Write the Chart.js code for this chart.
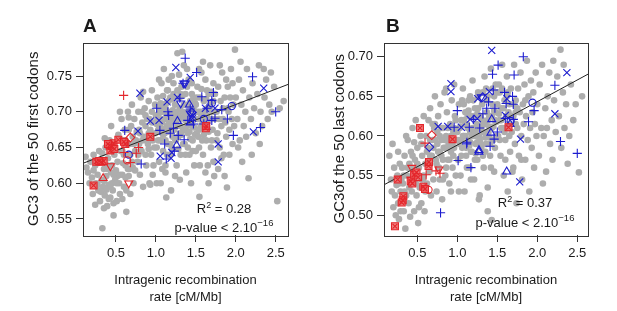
<!DOCTYPE html>
<html><head><meta charset="utf-8">
<script src="https://cdn.jsdelivr.net/npm/chart.js@4/dist/chart.umd.min.js"></script>
<style>
html,body{margin:0;padding:0;background:#fff;width:617px;height:311px;overflow:hidden;}
canvas{position:absolute;top:0;}
#ca{left:0;}
#cb{left:301px;}
</style></head><body>
<canvas id="ca" width="308" height="311"></canvas>
<canvas id="cb" width="316" height="311"></canvas>
<script>
// ---------- tick labels ----------
const xTicks = [0.5, 1.0, 1.5, 2.0, 2.5];
const yTicksA = [0.55, 0.60, 0.65, 0.70, 0.75];
const yTicksB = [0.50, 0.55, 0.60, 0.65, 0.70];

// ---------- regression fits (intercept, slope) ----------
const fitA = [0.6242, 0.0430];
const fitB = [0.5338, 0.05476];
const statsA = ["0.28", "2.10"];
const statsB = ["0.37", "2.10"];

// ---------- Panel A: GC3 of the 50 first codons ----------
const greyA = [
[0.12,0.637],[0.13,0.622],[0.15,0.615],[0.18,0.630],[0.20,0.608],[0.22,0.640],[0.24,0.625],[0.25,0.600],[0.27,0.612],[0.28,0.590],[0.29,0.645],[0.30,0.575],[0.21,0.585],[0.26,0.632],[0.17,0.600],
[0.33,0.537],[0.32,0.605],[0.34,0.595],[0.35,0.620],[0.36,0.583],[0.37,0.650],[0.38,0.610],[0.39,0.568],[0.40,0.635],[0.41,0.598],[0.42,0.660],[0.43,0.580],[0.44,0.615],[0.45,0.625],[0.46,0.590],[0.47,0.572],[0.48,0.640],[0.49,0.605],[0.36,0.663],[0.44,0.680],[0.47,0.555],[0.40,0.620],[0.33,0.642],[0.45,0.600],[0.38,0.591],[0.50,0.618],
[0.51,0.575],[0.52,0.630],[0.53,0.668],[0.54,0.600],[0.55,0.585],[0.56,0.645],[0.57,0.690],[0.58,0.612],[0.59,0.660],[0.60,0.595],[0.61,0.675],[0.62,0.625],[0.63,0.560],[0.64,0.640],[0.65,0.700],[0.66,0.610],[0.67,0.655],[0.68,0.585],[0.69,0.680],[0.70,0.630],[0.71,0.665],[0.72,0.600],[0.73,0.690],[0.74,0.645],[0.55,0.700],[0.60,0.640],[0.63,0.590],[0.67,0.620],[0.70,0.710],[0.52,0.610],[0.58,0.578],[0.66,0.692],[0.72,0.655],[0.74,0.618],
[0.76,0.672],[0.77,0.630],[0.78,0.700],[0.79,0.655],[0.80,0.612],[0.81,0.720],[0.82,0.645],[0.83,0.685],[0.84,0.595],[0.85,0.665],[0.86,0.705],[0.87,0.640],[0.88,0.625],[0.89,0.690],[0.90,0.655],[0.91,0.715],[0.92,0.600],[0.93,0.675],[0.94,0.640],[0.95,0.700],[0.96,0.660],[0.97,0.625],[0.98,0.685],[0.99,0.710],[0.80,0.670],[0.84,0.728],[0.88,0.660],[0.92,0.690],[0.96,0.612],[0.78,0.640],[0.83,0.700],[0.87,0.680],[0.91,0.648],[0.95,0.730],[0.99,0.670],[0.93,0.598],
[1.00,0.695],[1.01,0.650],[1.02,0.720],[1.03,0.675],[1.04,0.630],[1.05,0.705],[1.06,0.660],[1.07,0.740],[1.08,0.685],[1.09,0.645],[1.10,0.710],[1.11,0.670],[1.12,0.625],[1.13,0.695],[1.14,0.730],[1.15,0.655],[1.16,0.715],[1.17,0.680],[1.18,0.640],[1.19,0.700],[1.20,0.750],[1.21,0.665],[1.22,0.725],[1.23,0.690],[1.24,0.610],[1.02,0.690],[1.05,0.680],[1.08,0.700],[1.11,0.690],[1.14,0.680],[1.17,0.695],[1.20,0.685],[1.23,0.675],[1.03,0.660],[1.09,0.668],[1.15,0.672],[1.21,0.702],[1.06,0.712],[1.12,0.705],[1.18,0.720],[1.24,0.710],[1.01,0.600],[1.06,0.600],[1.12,0.615],[1.19,0.590],[1.04,0.745],[1.10,0.760],[1.16,0.745],[1.22,0.740],[1.08,0.620],[1.14,0.640],[1.20,0.650],[1.25,0.660],[1.13,0.580],
[1.26,0.700],[1.27,0.782],[1.28,0.665],[1.29,0.720],[1.30,0.690],[1.31,0.640],[1.32,0.735],[1.33,0.784],[1.34,0.675],[1.35,0.710],[1.36,0.655],[1.37,0.725],[1.38,0.690],[1.39,0.760],[1.40,0.670],[1.41,0.700],[1.42,0.640],[1.43,0.715],[1.44,0.685],[1.45,0.740],[1.46,0.660],[1.47,0.705],[1.48,0.625],[1.49,0.690],[1.27,0.680],[1.30,0.705],[1.33,0.692],[1.36,0.698],[1.39,0.680],[1.42,0.695],[1.45,0.680],[1.48,0.700],[1.28,0.648],[1.34,0.655],[1.40,0.650],[1.46,0.645],[1.29,0.752],[1.35,0.765],[1.41,0.745],[1.47,0.720],[1.30,0.605],[1.38,0.615],[1.44,0.600],[1.32,0.668],[1.37,0.640],[1.43,0.662],[1.49,0.668],[1.31,0.725],[1.26,0.625],
[1.50,0.710],[1.51,0.670],[1.52,0.735],[1.53,0.690],[1.54,0.650],[1.545,0.581],[1.55,0.720],[1.56,0.680],[1.57,0.755],[1.58,0.700],[1.59,0.640],[1.60,0.715],[1.61,0.685],[1.62,0.745],[1.63,0.660],[1.64,0.705],[1.65,0.625],[1.66,0.725],[1.67,0.690],[1.68,0.765],[1.69,0.650],[1.70,0.700],[1.71,0.675],[1.72,0.740],[1.73,0.610],[1.74,0.690],[1.52,0.700],[1.56,0.698],[1.60,0.695],[1.64,0.680],[1.68,0.710],[1.72,0.715],[1.53,0.665],[1.58,0.660],[1.63,0.690],[1.70,0.660],[1.55,0.625],[1.62,0.615],[1.66,0.600],[1.72,0.630],[1.59,0.770],[1.64,0.730],[1.54,0.760],[1.74,0.725],[1.50,0.645],
[1.76,0.700],[1.77,0.670],[1.78,0.735],[1.79,0.690],[1.80,0.650],[1.81,0.715],[1.82,0.680],[1.83,0.755],[1.84,0.705],[1.85,0.640],[1.86,0.720],[1.87,0.685],[1.88,0.665],[1.89,0.594],[1.90,0.735],[1.91,0.700],[1.92,0.675],[1.93,0.720],[1.94,0.760],[1.95,0.690],[1.96,0.655],[1.97,0.710],[1.99,0.787],[1.98,0.680],[1.78,0.620],[1.82,0.635],[1.86,0.610],[1.92,0.640],[1.80,0.765],[1.88,0.745],[1.96,0.740],[1.84,0.690],[1.90,0.705],[1.76,0.660],
[2.00,0.720],[2.02,0.690],[2.04,0.745],[2.05,0.660],[2.07,0.710],[2.09,0.730],[2.10,0.680],[2.12,0.700],[2.14,0.760],[2.16,0.607],[2.17,0.720],[2.19,0.690],[2.21,0.740],[2.23,0.705],[2.25,0.670],[2.27,0.725],[2.29,0.765],[2.31,0.700],[2.33,0.680],[2.36,0.720],[2.38,0.745],[2.40,0.690],[2.42,0.710],[2.45,0.700],[2.48,0.735],[2.52,0.575],[2.55,0.705],[2.03,0.650],[2.08,0.630],[2.13,0.665],[2.20,0.640],[2.30,0.655],[2.06,0.770],[2.35,0.760],[2.44,0.755],[2.60,0.715],
[1.01,0.683],[1.04,0.698],[1.07,0.690],[1.10,0.676],[1.13,0.712],[1.16,0.688],[1.19,0.675],[1.22,0.695],[1.25,0.685],[1.28,0.695],[1.31,0.680],[1.34,0.700],[1.37,0.688],[1.40,0.710],[1.43,0.695],[1.46,0.688],[1.49,0.712],[1.52,0.690],[1.55,0.700],[1.58,0.688],[1.61,0.700],[1.64,0.695],[1.67,0.705],[1.70,0.690],[1.73,0.700],[1.06,0.672],[1.12,0.660],[1.18,0.655],[1.24,0.662],[1.30,0.670],[1.36,0.675],[1.42,0.672],[1.48,0.678],[1.54,0.675],[1.60,0.668],[1.66,0.672],[1.09,0.722],[1.15,0.730],[1.21,0.718],[1.27,0.730],[1.33,0.722],[1.39,0.735],[1.45,0.725],[1.51,0.720],[1.57,0.732],[1.63,0.718],[1.69,0.728],
[0.22,0.618],[0.27,0.598],[0.31,0.588],[0.35,0.603],[0.39,0.625],[0.43,0.595],[0.47,0.612],[0.51,0.600],[0.55,0.612],[0.59,0.628],[0.62,0.608],[0.65,0.620],[0.68,0.640],[0.71,0.622],[0.75,0.660],[0.79,0.675],[0.83,0.660],[0.87,0.695],[0.91,0.670],[0.95,0.685],[0.98,0.650],[0.58,0.645],[0.62,0.660],[0.66,0.675],[0.24,0.570],[0.35,0.565],[0.41,0.578]
];
const bluePlusA = [[1.367,0.775],[1.51,0.755],[0.61,0.674],[0.816,0.627],[1.01,0.705],[1.16,0.695],[1.15,0.70],[1.05,0.674],[1.11,0.655],[1.18,0.67],[1.22,0.677],[1.354,0.661],[1.28,0.667],[1.40,0.688],[1.47,0.683],[1.575,0.721],[1.64,0.705],[1.70,0.716],[1.72,0.727],[1.74,0.691],[1.70,0.688],[1.825,0.703],[1.895,0.69],[1.97,0.667],[2.21,0.749],[2.31,0.678],[2.50,0.70],[1.23,0.645],[1.30,0.719],[1.43,0.704],[1.60,0.683],[1.13,0.634],[1.34,0.74]];
const blueXA = [[1.25,0.762],[1.43,0.748],[0.80,0.726],[0.775,0.673],[1.04,0.688],[1.054,0.638],[1.14,0.714],[1.19,0.635],[1.27,0.72],[1.46,0.691],[1.62,0.705],[1.74,0.705],[1.78,0.655],[1.78,0.63],[2.22,0.672],[2.35,0.733],[1.64,0.68],[1.46,0.695],[0.93,0.687],[1.20,0.643]];
const blueTriUpA = [[1.42,0.71],[1.27,0.687],[1.26,0.653],[1.43,0.685]];
const blueTriDownA = [[1.367,0.740],[1.31,0.712],[1.43,0.698],[1.35,0.74]];
const blueCircleA = [[0.66,0.64],[1.95,0.708],[1.70,0.712],[1.60,0.69]];
const blueDiamondA = [[1.45,0.699]];
const redBoxA = [[0.254,0.630],[0.317,0.630],[0.346,0.631],[0.22,0.597],[0.43,0.646],[0.45,0.652],[0.47,0.656],[0.42,0.653],[0.53,0.661],[0.617,0.655],[0.93,0.665],[1.625,0.677],[0.29,0.631],[0.48,0.648],[0.40,0.655],[0.60,0.658],[1.63,0.68]];
const redPlusA = [[0.596,0.723],[0.783,0.650],[0.754,0.642],[0.68,0.629],[0.60,0.643]];
const redTriUpA = [[0.34,0.607]];
const redTriDownA = [[0.43,0.624],[0.66,0.600]];
const redCircleA = [[0.64,0.632]];
const redDiamondA = [[0.68,0.664]];

// ---------- Panel B: GC3 of the 50 last codons ----------
const greyB = [
[0.15,0.575],[0.17,0.545],[0.18,0.530],[0.20,0.510],[0.21,0.560],[0.22,0.525],[0.23,0.500],[0.24,0.538],[0.25,0.550],[0.26,0.515],[0.27,0.495],[0.28,0.565],[0.29,0.530],[0.30,0.545],[0.19,0.590],[0.26,0.580],[0.29,0.505],
[0.31,0.560],[0.32,0.540],[0.33,0.505],[0.34,0.575],[0.35,0.483],[0.36,0.525],[0.37,0.550],[0.38,0.595],[0.39,0.515],[0.40,0.565],[0.41,0.498],[0.42,0.580],[0.43,0.530],[0.44,0.610],[0.45,0.545],[0.46,0.505],[0.47,0.570],[0.48,0.620],[0.49,0.525],[0.50,0.585],[0.51,0.490],[0.52,0.560],[0.53,0.535],[0.54,0.600],[0.55,0.515],[0.56,0.575],[0.57,0.545],[0.58,0.625],[0.59,0.505],[0.60,0.565],[0.36,0.600],[0.42,0.560],[0.48,0.540],[0.55,0.590],[0.34,0.530],[0.46,0.592],[0.58,0.550],[0.40,0.535],[0.52,0.510],
[0.61,0.600],[0.62,0.540],[0.63,0.585],[0.64,0.620],[0.65,0.555],[0.66,0.635],[0.67,0.525],[0.68,0.575],[0.69,0.595],[0.70,0.545],[0.71,0.610],[0.72,0.650],[0.73,0.570],[0.74,0.530],[0.75,0.590],[0.76,0.625],[0.77,0.560],[0.78,0.600],[0.79,0.640],[0.80,0.575],[0.81,0.520],[0.82,0.610],[0.83,0.585],[0.84,0.655],[0.85,0.550],[0.86,0.600],[0.87,0.630],[0.88,0.570],[0.89,0.590],[0.90,0.540],[0.91,0.615],[0.92,0.580],[0.93,0.645],[0.94,0.560],[0.95,0.605],[0.96,0.585],[0.97,0.625],[0.98,0.550],[0.99,0.595],[0.70,0.585],[0.75,0.605],[0.80,0.595],[0.85,0.585],[0.90,0.595],[0.95,0.575],[0.66,0.575],[0.72,0.615],[0.78,0.580],[0.88,0.610],[0.82,0.545],[0.92,0.530],[0.96,0.665],[0.86,0.660],
[1.00,0.605],[1.01,0.570],[1.02,0.640],[1.03,0.590],[1.04,0.550],[1.05,0.620],[1.06,0.585],[1.07,0.660],[1.08,0.600],[1.09,0.530],[1.10,0.630],[1.11,0.575],[1.12,0.615],[1.13,0.595],[1.14,0.645],[1.15,0.560],[1.16,0.605],[1.17,0.625],[1.18,0.580],[1.19,0.670],[1.20,0.600],[1.21,0.545],[1.22,0.635],[1.23,0.590],[1.24,0.615],[1.25,0.570],[1.26,0.655],[1.27,0.600],[1.28,0.525],[1.29,0.625],[1.30,0.585],[1.31,0.640],[1.32,0.605],[1.33,0.560],[1.34,0.675],[1.35,0.615],[1.36,0.590],[1.37,0.645],[1.38,0.535],[1.39,0.605],[1.40,0.625],[1.41,0.575],[1.42,0.685],[1.43,0.494],[1.44,0.640],[1.45,0.595],[1.46,0.555],[1.47,0.620],[1.48,0.665],[1.49,0.600],[1.03,0.610],[1.08,0.620],[1.13,0.610],[1.18,0.600],[1.23,0.605],[1.28,0.610],[1.33,0.615],[1.38,0.620],[1.43,0.610],[1.48,0.630],[1.05,0.595],[1.15,0.588],[1.25,0.592],[1.35,0.598],[1.45,0.612],[1.10,0.600],[1.20,0.625],[1.30,0.612],[1.40,0.598],[1.06,0.645],[1.16,0.650],[1.26,0.635],[1.36,0.660],[1.46,0.650],[1.12,0.560],[1.22,0.570],[1.32,0.575],[1.42,0.560],[1.02,0.530],[1.27,0.520],[1.38,0.505],[1.17,0.545],
[1.50,0.640],[1.51,0.600],[1.52,0.665],[1.53,0.620],[1.54,0.575],[1.55,0.635],[1.56,0.690],[1.57,0.610],[1.58,0.550],[1.59,0.645],[1.60,0.595],[1.61,0.625],[1.62,0.675],[1.63,0.530],[1.64,0.615],[1.65,0.640],[1.66,0.580],[1.67,0.660],[1.68,0.605],[1.69,0.555],[1.70,0.625],[1.71,0.690],[1.72,0.590],[1.73,0.645],[1.74,0.515],[1.75,0.610],[1.76,0.660],[1.77,0.575],[1.78,0.630],[1.79,0.680],[1.80,0.600],[1.81,0.545],[1.82,0.640],[1.83,0.615],[1.84,0.665],[1.85,0.570],[1.86,0.625],[1.87,0.695],[1.88,0.595],[1.89,0.650],[1.90,0.530],[1.91,0.610],[1.92,0.670],[1.93,0.585],[1.94,0.630],[1.95,0.655],[1.96,0.560],[1.97,0.615],[1.98,0.680],[1.99,0.600],[1.55,0.610],[1.65,0.600],[1.75,0.635],[1.85,0.645],[1.60,0.570],[1.70,0.560],[1.80,0.570],[1.53,0.655],[1.63,0.655],[1.73,0.615],
[2.00,0.640],[2.02,0.575],[2.03,0.665],[2.05,0.610],[2.06,0.690],[2.08,0.600],[2.10,0.635],[2.11,0.555],[2.13,0.650],[2.15,0.680],[2.16,0.590],[2.18,0.620],[2.19,0.570],[2.21,0.645],[2.23,0.605],[2.25,0.675],[2.27,0.625],[2.29,0.709],[2.30,0.585],[2.32,0.655],[2.34,0.610],[2.36,0.640],[2.38,0.565],[2.40,0.600],[2.42,0.665],[2.45,0.620],[2.48,0.640],[2.52,0.554],[2.56,0.650],[2.07,0.540],[2.20,0.695],[2.33,0.690],[2.12,0.610],
[1.01,0.595],[1.04,0.612],[1.07,0.600],[1.10,0.615],[1.13,0.625],[1.16,0.592],[1.19,0.610],[1.22,0.600],[1.25,0.628],[1.28,0.595],[1.31,0.620],[1.34,0.605],[1.37,0.630],[1.40,0.612],[1.43,0.625],[1.46,0.632],[1.49,0.618],[1.52,0.628],[1.55,0.620],[1.58,0.635],[1.61,0.610],[1.64,0.630],[1.67,0.625],[1.70,0.640],[1.73,0.630],[1.05,0.575],[1.11,0.585],[1.17,0.580],[1.23,0.578],[1.29,0.590],[1.35,0.580],[1.41,0.590],[1.47,0.585],[1.53,0.595],[1.59,0.605],[1.65,0.615],[1.08,0.640],[1.14,0.632],[1.20,0.645],[1.26,0.650],[1.32,0.655],[1.38,0.650],[1.44,0.660],[1.50,0.655],[1.56,0.660],[1.62,0.650],
[0.72,0.595],[0.76,0.580],[0.80,0.610],[0.84,0.595],[0.88,0.585],[0.92,0.600],[0.96,0.610],[0.98,0.620],[0.74,0.565],[0.78,0.545],[0.82,0.570],[0.86,0.560],[0.90,0.570],[0.94,0.590],[0.62,0.580],[0.66,0.595],[0.69,0.615],[0.50,0.565],[0.44,0.575],[0.38,0.560],[0.33,0.550],[0.27,0.540],[0.55,0.545],[0.60,0.530]
];
const bluePlusB = [[1.825,0.70],[1.51,0.6895],[1.44,0.678],[1.71,0.677],[2.22,0.664],[1.45,0.658],[1.59,0.655],[1.69,0.65],[1.0,0.632],[1.61,0.641],[1.70,0.64],[1.39,0.643],[1.367,0.635],[1.47,0.635],[1.2,0.621],[1.15,0.611],[0.96,0.611],[1.28,0.61],[1.117,0.59],[1.41,0.587],[1.6,0.622],[1.70,0.621],[1.89,0.618],[1.96,0.632],[1.01,0.569],[1.17,0.56],[1.46,0.596],[0.79,0.503],[2.29,0.593],[2.50,0.578],[1.12,0.592],[1.32,0.628],[1.50,0.605]];
const blueXB = [[1.43,0.708],[0.92,0.666],[0.92,0.656],[0.76,0.612],[1.05,0.611],[1.25,0.622],[1.255,0.647],[1.60,0.626],[1.40,0.656],[2.37,0.68],[2.22,0.628],[1.79,0.596],[1.78,0.542],[1.62,0.647],[1.16,0.621],[0.88,0.612]];
const blueTriUpB = [[1.43,0.621],[1.42,0.604],[1.27,0.582],[1.617,0.555],[1.66,0.615],[1.27,0.580]];
const blueTriDownB = [[1.30,0.649]];
const blueCircleB = [[1.94,0.642],[1.667,0.619]];
const blueDiamondB = [[0.65,0.586],[1.317,0.649]];
const redBoxB = [[0.533,0.610],[0.94,0.596],[1.64,0.611],[0.254,0.545],[0.22,0.486],[0.325,0.524],[0.317,0.519],[0.304,0.516],[0.417,0.543],[0.437,0.540],[0.46,0.551],[0.49,0.554],[0.51,0.548],[0.575,0.536],[0.596,0.533],[0.64,0.562],[0.645,0.567]];
const redPlusB = [[0.596,0.591],[0.61,0.551],[0.733,0.556],[0.783,0.553],[0.42,0.548]];
const redTriUpB = [];
const redTriDownB = [[0.43,0.56],[0.77,0.558]];
const redCircleB = [[0.64,0.532]];
const redDiamondB = [[0.68,0.601]];

// ---------- styling ----------
const FONT = "'Liberation Sans', Arial, Helvetica, sans-serif";
const GREY = '#adadad', BLUE = '#1c1ccf', RED = '#e3262b', INK = '#1a1a1a';

const pts = arr => arr.map(p => ({x: p[0], y: p[1]}));
function sym(data, style, color, r, extra) {
  return Object.assign({
    type: 'scatter', data: pts(data), pointStyle: style, pointRadius: r, pointHoverRadius: r,
    borderColor: color, backgroundColor: 'rgba(0,0,0,0)', pointBorderWidth: 1.1, borderWidth: 1.1, order: 0
  }, extra || {});
}

function drawParts(ctx, parts, cx, baseline) {
  let total = 0;
  parts.forEach(p => { ctx.font = (p.size || 13) + 'px ' + FONT; p.w = ctx.measureText(p.t).width; total += p.w; });
  let x = cx - total / 2;
  parts.forEach(p => {
    ctx.font = (p.size || 13) + 'px ' + FONT;
    ctx.fillText(p.t, x, baseline - (p.rise || 0));
    x += p.w;
  });
}

function makePanel(id, cfg) {
  const textPlugin = {
    id: 'deco',
    afterDraw(chart) {
      const ctx = chart.ctx, a = chart.chartArea;
      ctx.save();
      ctx.strokeStyle = '#333'; ctx.lineWidth = 1;
      ctx.strokeRect(Math.round(a.left) + 0.5, Math.round(a.top) + 0.5, Math.round(a.right - a.left), Math.round(a.bottom - a.top));
      ctx.fillStyle = INK; ctx.textAlign = 'left'; ctx.textBaseline = 'alphabetic';
      ctx.font = 'bold 19px ' + FONT;
      ctx.fillText(cfg.letter, cfg.letterX, 32);
      drawParts(ctx, [{t: 'R'}, {t: '2', size: 9, rise: 5}, {t: ' = ' + cfg.stats[0]}], cfg.statX, cfg.r2Y);
      drawParts(ctx, [{t: 'p-value < ' + cfg.stats[1]}, {t: '\u221216', size: 9.5, rise: 6}], cfg.statX, cfg.pY);
      ctx.restore();
    }
  };
  const fit = cfg.fit;
  const lineData = [cfg.xmin, cfg.xmax].map(x => ({x: x, y: fit[0] + fit[1] * x}));
  const datasets = [
    sym(cfg.redBox, 'crossRot', RED, 3.4),
    sym(cfg.redBox, 'rect', RED, 4.9, {backgroundColor: 'rgba(236,95,95,0.8)'}),
    sym(cfg.redPlus, 'cross', RED, 4.6),
    sym(cfg.redTriUp, 'triangle', RED, 4.6),
    sym(cfg.redTriDown, 'triangle', RED, 4.6, {rotation: 180}),
    sym(cfg.redCircle, 'circle', RED, 3.6),
    sym(cfg.redDiamond, 'rectRot', RED, 4.4),
    sym(cfg.bluePlus, 'cross', BLUE, 4.6),
    sym(cfg.blueX, 'crossRot', BLUE, 5.0),
    sym(cfg.blueTriUp, 'triangle', BLUE, 4.6),
    sym(cfg.blueTriDown, 'triangle', BLUE, 4.6, {rotation: 180}),
    sym(cfg.blueCircle, 'circle', BLUE, 3.6),
    sym(cfg.blueDiamond, 'rectRot', BLUE, 4.4),
    {type: 'line', data: lineData, borderColor: '#222', borderWidth: 1, pointRadius: 0, fill: false, order: 5, tension: 0},
    {type: 'scatter', data: pts(cfg.grey), pointStyle: 'circle', pointRadius: 3.3, pointHoverRadius: 3.3,
     backgroundColor: GREY, borderColor: GREY, pointBorderWidth: 0, borderWidth: 0, order: 10}
  ];
  return new Chart(document.getElementById(id), {
    type: 'scatter',
    data: {datasets: datasets},
    options: {
      responsive: false, animation: false, devicePixelRatio: 1,
      layout: {padding: {left: 0, right: cfg.padRight, top: 42.5, bottom: 0}},
      plugins: {legend: {display: false}, tooltip: {enabled: false}, title: {display: false}},
      scales: {
        x: {
          type: 'linear', min: cfg.xmin, max: cfg.xmax,
          afterBuildTicks: s => { s.ticks = xTicks.map(v => ({value: v})); },
          afterFit: s => { s.height = 76; },
          ticks: {callback: v => Number(v).toFixed(1), font: {family: FONT, size: 13}, color: INK, padding: 4, maxRotation: 0, autoSkip: false},
          grid: {drawOnChartArea: false, drawTicks: true, tickLength: 7, tickColor: '#333', tickWidth: 1},
          border: {display: false},
          title: {display: true, text: ['Intragenic recombination', 'rate [cM/Mb]'], font: {family: FONT, size: 13, lineHeight: 1.3}, color: INK, padding: {top: 0, bottom: 5.5}}
        },
        y: {
          type: 'linear', min: cfg.ymin, max: cfg.ymax,
          afterBuildTicks: s => { s.ticks = cfg.yTicks.map(v => ({value: v})); },
          afterFit: s => { s.width = 83; },
          ticks: {callback: v => Number(v).toFixed(2), font: {family: FONT, size: 13}, color: INK, padding: 4, autoSkip: false},
          grid: {drawOnChartArea: false, drawTicks: true, tickLength: 7, tickColor: '#333', tickWidth: 1},
          border: {display: false},
          title: {display: true, text: cfg.yTitle, font: {family: FONT, size: 15}, color: INK, padding: {top: cfg.yTitlePad, bottom: 0}}
        }
      }
    },
    plugins: [textPlugin]
  });
}

makePanel('ca', {
  letter: 'A', letterX: 83, stats: statsA, statX: 224, r2Y: 213, pY: 232,
  fit: fitA, xmin: 0.0875, xmax: 2.654, ymin: 0.5276, ymax: 0.797, yTicks: yTicksA,
  yTitle: 'GC3 of the 50 first codons', yTitlePad: 25, padRight: 20,
  grey: greyA, bluePlus: bluePlusA, blueX: blueXA, blueTriUp: blueTriUpA, blueTriDown: blueTriDownA,
  blueCircle: blueCircleA, blueDiamond: blueDiamondA, redBox: redBoxA, redPlus: redPlusA,
  redTriUp: redTriUpA, redTriDown: redTriDownA, redCircle: redCircleA, redDiamond: redDiamondA
});
makePanel('cb', {
  letter: 'B', letterX: 85, stats: statsB, statX: 224, r2Y: 207, pY: 227,
  fit: fitB, xmin: 0.083, xmax: 2.634, ymin: 0.475, ymax: 0.718, yTicks: yTicksB,
  yTitle: 'GC3of the 50 last codons', yTitlePad: 30, padRight: 29,
  grey: greyB, bluePlus: bluePlusB, blueX: blueXB, blueTriUp: blueTriUpB, blueTriDown: blueTriDownB,
  blueCircle: blueCircleB, blueDiamond: blueDiamondB, redBox: redBoxB, redPlus: redPlusB,
  redTriUp: redTriUpB, redTriDown: redTriDownB, redCircle: redCircleB, redDiamond: redDiamondB
});
</script>
</body></html>
